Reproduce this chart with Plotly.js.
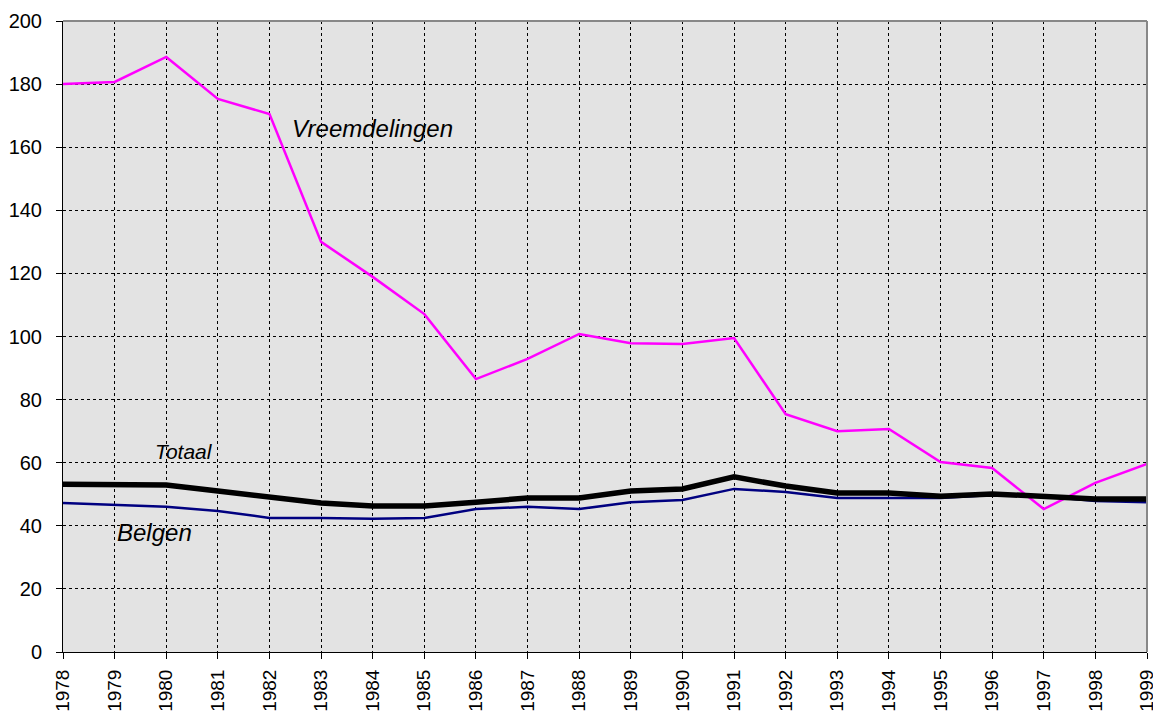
<!DOCTYPE html>
<html>
<head>
<meta charset="utf-8">
<script src="https://cdn.plot.ly/plotly-3.0.1.min.js"></script>
<style>
  html, body { margin: 0; padding: 0; background: #fff; }
  #chart { width: 1153px; height: 713px; }
</style>
</head>
<body>
<div id="chart"></div>
<script>
// years on the x axis
const years = [1978, 1979, 1980, 1981, 1982, 1983, 1984, 1985, 1986, 1987, 1988,
               1989, 1990, 1991, 1992, 1993, 1994, 1995, 1996, 1997, 1998, 1999];

// series values
const vreemdelingen = [180, 180.7, 188.6, 175.3, 170.5, 130, 118.9, 107.1, 86.5, 92.9, 100.8,
                       97.9, 97.6, 99.5, 75.4, 70, 70.7, 60.2, 58.3, 45.3, 53.6, 59.6];
const totaal = [53.2, 52.9, 52.9, 51, 49.1, 47.2, 46.3, 46.3, 47.5, 48.8, 48.8,
                51, 51.7, 55.5, 52.6, 50.4, 50.4, 49.4, 50.1, 49.4, 48.5, 48.5];
const belgen = [47.2, 46.6, 46, 44.7, 42.5, 42.5, 42.2, 42.5, 45.3, 46, 45.3,
                47.5, 48.2, 51.7, 50.7, 48.8, 48.8, 48.8, 49.8, 49.4, 47.9, 47.5];

const yTicks = [0, 20, 40, 60, 80, 100, 120, 140, 160, 180, 200];

const traces = [
    { x: years, y: belgen, type: 'scatter', mode: 'lines', name: 'Belgen',
      line: { color: '#000080', width: 2.5 } },
    { x: years, y: vreemdelingen, type: 'scatter', mode: 'lines', name: 'Vreemdelingen',
      line: { color: '#ff00ff', width: 2.5 } },
    { x: years, y: totaal, type: 'scatter', mode: 'lines', name: 'Totaal',
      line: { color: '#000000', width: 5.5 } }
];

const layout = {
    width: 1153,
    height: 713,
    margin: { l: 63, r: 6, t: 21, b: 61 },
    paper_bgcolor: '#ffffff',
    plot_bgcolor: '#e3e3e3',
    showlegend: false,
    font: { family: 'Liberation Sans, Arial, sans-serif', size: 20, color: '#000' },
    xaxis: {
        range: [1978, 1999],
        tickvals: years,
        ticktext: years.map(String),
        tickangle: -90,
        ticks: 'outside',
        ticklen: 6,
        tickcolor: '#000',
        ticklabelstandoff: 3,
        ticklabeloverflow: 'allow',
        showline: true,
        linecolor: '#000',
        linewidth: 1,
        showgrid: true,
        gridcolor: '#000',
        gridwidth: 1,
        griddash: 'dot',
        zeroline: false,
        tickfont: { size: 19 }
    },
    yaxis: {
        range: [0, 200],
        tickvals: yTicks,
        ticks: 'outside',
        ticklen: 6,
        tickcolor: '#000',
        ticklabelstandoff: 10,
        showline: true,
        linecolor: '#000',
        linewidth: 1,
        showgrid: true,
        gridcolor: '#000',
        gridwidth: 1,
        griddash: 'dot',
        zeroline: false,
        tickfont: { size: 20 }
    },
    shapes: [
        // gray frame on top and right
        { type: 'line', xref: 'paper', yref: 'paper', x0: 0, x1: 1, y0: 1, y1: 1,
          line: { color: '#888', width: 2 } },
        { type: 'line', xref: 'paper', yref: 'paper', x0: 1, x1: 1, y0: 0, y1: 1,
          line: { color: '#888', width: 2 } }
    ],
    annotations: [
        { x: 1982.4, y: 166, text: '<i>Vreemdelingen</i>', showarrow: false,
          xanchor: 'left', yanchor: 'middle', font: { size: 24 } },
        { x: 1979.74, y: 63.4, text: '<i>Totaal</i>', showarrow: false,
          xanchor: 'left', yanchor: 'middle', font: { size: 21 } },
        { x: 1979.0, y: 38, text: '<i>Belgen</i>', showarrow: false,
          xanchor: 'left', yanchor: 'middle', font: { size: 24 } }
    ]
};

Plotly.newPlot('chart', traces, layout, { displayModeBar: false });
</script>
</body>
</html>
